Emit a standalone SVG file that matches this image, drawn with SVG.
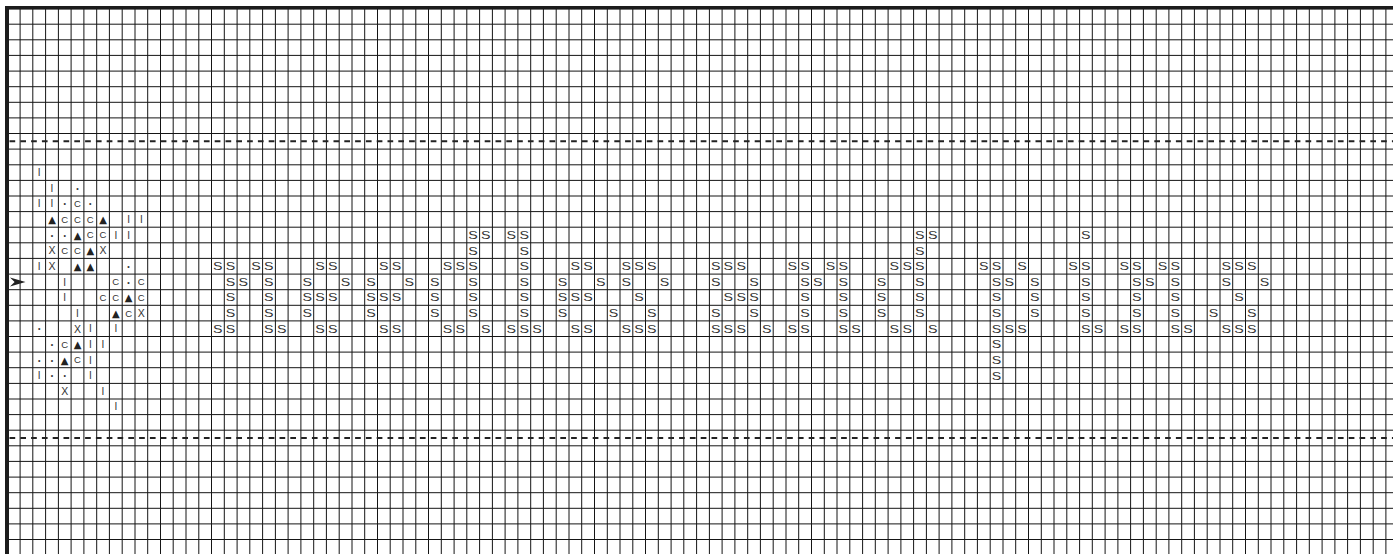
<svg xmlns="http://www.w3.org/2000/svg" width="1393" height="554" viewBox="0 0 1393 554">
<style>
.grid{fill:none;stroke:#151515;stroke-width:1}
.dash{fill:none;stroke:#222;stroke-width:2;stroke-dasharray:5.7 5.1}
.border{fill:#1c1c1c}
.sym{font-family:"Liberation Sans","DejaVu Sans",sans-serif;fill:#333;text-anchor:middle}
.i{font-size:10px}
.d{font-size:7px}
.c{font-size:9.5px}
.t{font-family:"DejaVu Sans","Liberation Sans",sans-serif;font-size:10px;fill:#222;text-anchor:middle}
.x{font-size:10.5px}
.s{font-family:"Liberation Sans","DejaVu Sans",sans-serif;font-size:11px;fill:#333}
</style>
<rect x="0" y="0" width="1393" height="554" fill="#fff"/>
<g id="grid">
<path class="grid" d="M20.1 9v545M32.8 9v545M45.6 9v545M58.4 9v545M71.1 9v545M83.9 9v545M96.7 9v545M109.4 9v545M122.2 9v545M135 9v545M147.7 9v545M160.5 9v545M173.2 9v545M186 9v545M198.8 9v545M211.5 9v545M224.3 9v545M237.1 9v545M249.8 9v545M262.6 9v545M275.4 9v545M288.1 9v545M300.9 9v545M313.7 9v545M326.4 9v545M339.2 9v545M352 9v545M364.7 9v545M377.5 9v545M390.2 9v545M403 9v545M415.8 9v545M428.5 9v545M441.3 9v545M454.1 9v545M466.8 9v545M479.6 9v545M492.4 9v545M505.1 9v545M517.9 9v545M530.7 9v545M543.4 9v545M556.2 9v545M569 9v545M581.7 9v545M594.5 9v545M607.3 9v545M620 9v545M632.8 9v545M645.5 9v545M658.3 9v545M671.1 9v545M683.8 9v545M696.6 9v545M709.4 9v545M722.1 9v545M734.9 9v545M747.7 9v545M760.4 9v545M773.2 9v545M786 9v545M798.7 9v545M811.5 9v545M824.3 9v545M837 9v545M849.8 9v545M862.6 9v545M875.3 9v545M888.1 9v545M900.9 9v545M913.6 9v545M926.4 9v545M939.1 9v545M951.9 9v545M964.7 9v545M977.4 9v545M990.2 9v545M1003 9v545M1015.7 9v545M1028.5 9v545M1041.3 9v545M1054 9v545M1066.8 9v545M1079.6 9v545M1092.3 9v545M1105.1 9v545M1117.9 9v545M1130.6 9v545M1143.4 9v545M1156.2 9v545M1168.9 9v545M1181.7 9v545M1194.4 9v545M1207.2 9v545M1220 9v545M1232.7 9v545M1245.5 9v545M1258.3 9v545M1271 9v545M1283.8 9v545M1296.6 9v545M1309.3 9v545M1322.1 9v545M1334.9 9v545M1347.6 9v545M1360.4 9v545M1373.2 9v545M1385.9 9v545"/>
<path class="grid" d="M9 24.2H1393M9 39.8H1393M9 55.4H1393M9 71.1H1393M9 86.7H1393M9 102.3H1393M9 117.9H1393M9 133.5H1393M9 149.1H1393M9 164.8H1393M9 180.4H1393M9 196H1393M9 211.6H1393M9 227.2H1393M9 242.8H1393M9 258.4H1393M9 274.1H1393M9 289.7H1393M9 305.3H1393M9 320.9H1393M9 336.5H1393M9 352.1H1393M9 367.7H1393M9 383.4H1393M9 399H1393M9 414.6H1393M9 430.2H1393M9 445.8H1393M9 461.4H1393M9 477.1H1393M9 492.7H1393M9 508.3H1393M9 523.9H1393M9 539.5H1393"/>
</g>
<g id="center-lines">
<path class="dash" d="M9.5 141.3H1393M9.5 438H1393"/>
</g>
<g id="frame">
<rect class="border" x="5" y="6" width="1388" height="3.6"/>
<rect class="border" x="5" y="6" width="4" height="548"/>
</g>
<g id="center-arrow">
<polygon points="10,277.4 25.5,281.9 10,286.4 14.6,281.9" fill="#222"/>
</g>
<g id="motif" class="sym">
<text class="i" x="39.2" y="176.2">I</text>
<text class="i" x="52" y="191.8">I</text><text class="d" x="77.5" y="190.8">•</text>
<text class="i" x="39.2" y="207.4">I</text><text class="i" x="52" y="207.4">I</text><text class="d" x="64.7" y="206.4">•</text><text class="c" x="77.5" y="207.2">C</text><text class="d" x="90.3" y="206.4">•</text>
<text class="t" x="52" y="223.1">▲</text><text class="c" x="64.7" y="222.8">C</text><text class="c" x="77.5" y="222.8">C</text><text class="c" x="90.3" y="222.8">C</text><text class="t" x="103" y="223.1">▲</text><text class="i" x="128.6" y="223">I</text><text class="i" x="141.3" y="223">I</text>
<text class="d" x="52" y="237.6">•</text><text class="d" x="64.7" y="237.6">•</text><text class="t" x="77.5" y="238.7">▲</text><text class="c" x="90.3" y="238.4">C</text><text class="c" x="103" y="238.4">C</text><text class="i" x="115.8" y="238.6">I</text><text class="i" x="128.6" y="238.6">I</text>
<text class="x" x="52" y="254.4">X</text><text class="c" x="64.7" y="254">C</text><text class="c" x="77.5" y="254">C</text><text class="t" x="90.3" y="254.3">▲</text><text class="x" x="103" y="254.4">X</text>
<text class="i" x="39.2" y="269.8">I</text><text class="x" x="52" y="270">X</text><text class="t" x="77.5" y="269.9">▲</text><text class="t" x="90.3" y="269.9">▲</text><text class="d" x="128.6" y="268.8">•</text>
<text class="i" x="64.7" y="285.5">I</text><text class="c" x="115.8" y="285.3">C</text><text class="d" x="128.6" y="284.5">•</text><text class="c" x="141.3" y="285.3">C</text>
<text class="i" x="64.7" y="301.1">I</text><text class="c" x="103" y="300.9">C</text><text class="c" x="115.8" y="300.9">C</text><text class="t" x="128.6" y="301.2">▲</text><text class="c" x="141.3" y="300.9">C</text>
<text class="i" x="77.5" y="316.7">I</text><text class="t" x="115.8" y="316.8">▲</text><text class="c" x="128.6" y="316.5">C</text><text class="x" x="141.3" y="316.9">X</text>
<text class="d" x="39.2" y="331.3">•</text><text class="x" x="77.5" y="332.5">X</text><text class="i" x="90.3" y="332.3">I</text><text class="i" x="115.8" y="332.3">I</text>
<text class="d" x="52" y="346.9">•</text><text class="c" x="64.7" y="347.7">C</text><text class="t" x="77.5" y="348">▲</text><text class="i" x="90.3" y="347.9">I</text><text class="i" x="103" y="347.9">I</text>
<text class="d" x="39.2" y="362.5">•</text><text class="d" x="52" y="362.5">•</text><text class="t" x="64.7" y="363.6">▲</text><text class="c" x="77.5" y="363.3">C</text><text class="i" x="90.3" y="363.5">I</text>
<text class="i" x="39.2" y="379.2">I</text><text class="d" x="52" y="378.2">•</text><text class="d" x="64.7" y="378.2">•</text><text class="i" x="90.3" y="379.2">I</text>
<text class="x" x="64.7" y="395">X</text><text class="i" x="103" y="394.8">I</text>
<text class="i" x="115.8" y="410.4">I</text>
</g>
<g id="lettering">
<text class="s" x="468.3" y="239" textLength="9.5" lengthAdjust="spacingAndGlyphs">S</text><text class="s" x="481.1" y="239" textLength="9.5" lengthAdjust="spacingAndGlyphs">S</text><text class="s" x="506.6" y="239" textLength="9.5" lengthAdjust="spacingAndGlyphs">S</text><text class="s" x="519.4" y="239" textLength="9.5" lengthAdjust="spacingAndGlyphs">S</text><text class="s" x="915.1" y="239" textLength="9.5" lengthAdjust="spacingAndGlyphs">S</text><text class="s" x="927.9" y="239" textLength="9.5" lengthAdjust="spacingAndGlyphs">S</text><text class="s" x="1081.1" y="239" textLength="9.5" lengthAdjust="spacingAndGlyphs">S</text>
<text class="s" x="468.3" y="254.6" textLength="9.5" lengthAdjust="spacingAndGlyphs">S</text><text class="s" x="519.4" y="254.6" textLength="9.5" lengthAdjust="spacingAndGlyphs">S</text><text class="s" x="915.1" y="254.6" textLength="9.5" lengthAdjust="spacingAndGlyphs">S</text>
<text class="s" x="213" y="270.2" textLength="9.5" lengthAdjust="spacingAndGlyphs">S</text><text class="s" x="225.8" y="270.2" textLength="9.5" lengthAdjust="spacingAndGlyphs">S</text><text class="s" x="251.3" y="270.2" textLength="9.5" lengthAdjust="spacingAndGlyphs">S</text><text class="s" x="264.1" y="270.2" textLength="9.5" lengthAdjust="spacingAndGlyphs">S</text><text class="s" x="315.2" y="270.2" textLength="9.5" lengthAdjust="spacingAndGlyphs">S</text><text class="s" x="327.9" y="270.2" textLength="9.5" lengthAdjust="spacingAndGlyphs">S</text><text class="s" x="379" y="270.2" textLength="9.5" lengthAdjust="spacingAndGlyphs">S</text><text class="s" x="391.7" y="270.2" textLength="9.5" lengthAdjust="spacingAndGlyphs">S</text><text class="s" x="442.8" y="270.2" textLength="9.5" lengthAdjust="spacingAndGlyphs">S</text><text class="s" x="455.6" y="270.2" textLength="9.5" lengthAdjust="spacingAndGlyphs">S</text><text class="s" x="468.3" y="270.2" textLength="9.5" lengthAdjust="spacingAndGlyphs">S</text><text class="s" x="519.4" y="270.2" textLength="9.5" lengthAdjust="spacingAndGlyphs">S</text><text class="s" x="570.5" y="270.2" textLength="9.5" lengthAdjust="spacingAndGlyphs">S</text><text class="s" x="583.2" y="270.2" textLength="9.5" lengthAdjust="spacingAndGlyphs">S</text><text class="s" x="621.5" y="270.2" textLength="9.5" lengthAdjust="spacingAndGlyphs">S</text><text class="s" x="634.3" y="270.2" textLength="9.5" lengthAdjust="spacingAndGlyphs">S</text><text class="s" x="647" y="270.2" textLength="9.5" lengthAdjust="spacingAndGlyphs">S</text><text class="s" x="710.9" y="270.2" textLength="9.5" lengthAdjust="spacingAndGlyphs">S</text><text class="s" x="723.6" y="270.2" textLength="9.5" lengthAdjust="spacingAndGlyphs">S</text><text class="s" x="736.4" y="270.2" textLength="9.5" lengthAdjust="spacingAndGlyphs">S</text><text class="s" x="787.5" y="270.2" textLength="9.5" lengthAdjust="spacingAndGlyphs">S</text><text class="s" x="800.2" y="270.2" textLength="9.5" lengthAdjust="spacingAndGlyphs">S</text><text class="s" x="825.8" y="270.2" textLength="9.5" lengthAdjust="spacingAndGlyphs">S</text><text class="s" x="838.5" y="270.2" textLength="9.5" lengthAdjust="spacingAndGlyphs">S</text><text class="s" x="889.6" y="270.2" textLength="9.5" lengthAdjust="spacingAndGlyphs">S</text><text class="s" x="902.4" y="270.2" textLength="9.5" lengthAdjust="spacingAndGlyphs">S</text><text class="s" x="915.1" y="270.2" textLength="9.5" lengthAdjust="spacingAndGlyphs">S</text><text class="s" x="978.9" y="270.2" textLength="9.5" lengthAdjust="spacingAndGlyphs">S</text><text class="s" x="991.7" y="270.2" textLength="9.5" lengthAdjust="spacingAndGlyphs">S</text><text class="s" x="1017.2" y="270.2" textLength="9.5" lengthAdjust="spacingAndGlyphs">S</text><text class="s" x="1068.3" y="270.2" textLength="9.5" lengthAdjust="spacingAndGlyphs">S</text><text class="s" x="1081.1" y="270.2" textLength="9.5" lengthAdjust="spacingAndGlyphs">S</text><text class="s" x="1119.4" y="270.2" textLength="9.5" lengthAdjust="spacingAndGlyphs">S</text><text class="s" x="1132.1" y="270.2" textLength="9.5" lengthAdjust="spacingAndGlyphs">S</text><text class="s" x="1157.7" y="270.2" textLength="9.5" lengthAdjust="spacingAndGlyphs">S</text><text class="s" x="1170.4" y="270.2" textLength="9.5" lengthAdjust="spacingAndGlyphs">S</text><text class="s" x="1221.5" y="270.2" textLength="9.5" lengthAdjust="spacingAndGlyphs">S</text><text class="s" x="1234.2" y="270.2" textLength="9.5" lengthAdjust="spacingAndGlyphs">S</text><text class="s" x="1247" y="270.2" textLength="9.5" lengthAdjust="spacingAndGlyphs">S</text>
<text class="s" x="225.8" y="285.8" textLength="9.5" lengthAdjust="spacingAndGlyphs">S</text><text class="s" x="238.6" y="285.8" textLength="9.5" lengthAdjust="spacingAndGlyphs">S</text><text class="s" x="264.1" y="285.8" textLength="9.5" lengthAdjust="spacingAndGlyphs">S</text><text class="s" x="302.4" y="285.8" textLength="9.5" lengthAdjust="spacingAndGlyphs">S</text><text class="s" x="340.7" y="285.8" textLength="9.5" lengthAdjust="spacingAndGlyphs">S</text><text class="s" x="366.2" y="285.8" textLength="9.5" lengthAdjust="spacingAndGlyphs">S</text><text class="s" x="404.5" y="285.8" textLength="9.5" lengthAdjust="spacingAndGlyphs">S</text><text class="s" x="430" y="285.8" textLength="9.5" lengthAdjust="spacingAndGlyphs">S</text><text class="s" x="468.3" y="285.8" textLength="9.5" lengthAdjust="spacingAndGlyphs">S</text><text class="s" x="519.4" y="285.8" textLength="9.5" lengthAdjust="spacingAndGlyphs">S</text><text class="s" x="557.7" y="285.8" textLength="9.5" lengthAdjust="spacingAndGlyphs">S</text><text class="s" x="596" y="285.8" textLength="9.5" lengthAdjust="spacingAndGlyphs">S</text><text class="s" x="621.5" y="285.8" textLength="9.5" lengthAdjust="spacingAndGlyphs">S</text><text class="s" x="659.8" y="285.8" textLength="9.5" lengthAdjust="spacingAndGlyphs">S</text><text class="s" x="710.9" y="285.8" textLength="9.5" lengthAdjust="spacingAndGlyphs">S</text><text class="s" x="749.2" y="285.8" textLength="9.5" lengthAdjust="spacingAndGlyphs">S</text><text class="s" x="800.2" y="285.8" textLength="9.5" lengthAdjust="spacingAndGlyphs">S</text><text class="s" x="813" y="285.8" textLength="9.5" lengthAdjust="spacingAndGlyphs">S</text><text class="s" x="838.5" y="285.8" textLength="9.5" lengthAdjust="spacingAndGlyphs">S</text><text class="s" x="876.8" y="285.8" textLength="9.5" lengthAdjust="spacingAndGlyphs">S</text><text class="s" x="915.1" y="285.8" textLength="9.5" lengthAdjust="spacingAndGlyphs">S</text><text class="s" x="991.7" y="285.8" textLength="9.5" lengthAdjust="spacingAndGlyphs">S</text><text class="s" x="1004.5" y="285.8" textLength="9.5" lengthAdjust="spacingAndGlyphs">S</text><text class="s" x="1030" y="285.8" textLength="9.5" lengthAdjust="spacingAndGlyphs">S</text><text class="s" x="1081.1" y="285.8" textLength="9.5" lengthAdjust="spacingAndGlyphs">S</text><text class="s" x="1132.1" y="285.8" textLength="9.5" lengthAdjust="spacingAndGlyphs">S</text><text class="s" x="1144.9" y="285.8" textLength="9.5" lengthAdjust="spacingAndGlyphs">S</text><text class="s" x="1170.4" y="285.8" textLength="9.5" lengthAdjust="spacingAndGlyphs">S</text><text class="s" x="1221.5" y="285.8" textLength="9.5" lengthAdjust="spacingAndGlyphs">S</text><text class="s" x="1259.8" y="285.8" textLength="9.5" lengthAdjust="spacingAndGlyphs">S</text>
<text class="s" x="225.8" y="301.4" textLength="9.5" lengthAdjust="spacingAndGlyphs">S</text><text class="s" x="264.1" y="301.4" textLength="9.5" lengthAdjust="spacingAndGlyphs">S</text><text class="s" x="302.4" y="301.4" textLength="9.5" lengthAdjust="spacingAndGlyphs">S</text><text class="s" x="315.2" y="301.4" textLength="9.5" lengthAdjust="spacingAndGlyphs">S</text><text class="s" x="327.9" y="301.4" textLength="9.5" lengthAdjust="spacingAndGlyphs">S</text><text class="s" x="366.2" y="301.4" textLength="9.5" lengthAdjust="spacingAndGlyphs">S</text><text class="s" x="379" y="301.4" textLength="9.5" lengthAdjust="spacingAndGlyphs">S</text><text class="s" x="391.7" y="301.4" textLength="9.5" lengthAdjust="spacingAndGlyphs">S</text><text class="s" x="430" y="301.4" textLength="9.5" lengthAdjust="spacingAndGlyphs">S</text><text class="s" x="468.3" y="301.4" textLength="9.5" lengthAdjust="spacingAndGlyphs">S</text><text class="s" x="519.4" y="301.4" textLength="9.5" lengthAdjust="spacingAndGlyphs">S</text><text class="s" x="557.7" y="301.4" textLength="9.5" lengthAdjust="spacingAndGlyphs">S</text><text class="s" x="570.5" y="301.4" textLength="9.5" lengthAdjust="spacingAndGlyphs">S</text><text class="s" x="583.2" y="301.4" textLength="9.5" lengthAdjust="spacingAndGlyphs">S</text><text class="s" x="634.3" y="301.4" textLength="9.5" lengthAdjust="spacingAndGlyphs">S</text><text class="s" x="723.6" y="301.4" textLength="9.5" lengthAdjust="spacingAndGlyphs">S</text><text class="s" x="736.4" y="301.4" textLength="9.5" lengthAdjust="spacingAndGlyphs">S</text><text class="s" x="749.2" y="301.4" textLength="9.5" lengthAdjust="spacingAndGlyphs">S</text><text class="s" x="800.2" y="301.4" textLength="9.5" lengthAdjust="spacingAndGlyphs">S</text><text class="s" x="838.5" y="301.4" textLength="9.5" lengthAdjust="spacingAndGlyphs">S</text><text class="s" x="876.8" y="301.4" textLength="9.5" lengthAdjust="spacingAndGlyphs">S</text><text class="s" x="915.1" y="301.4" textLength="9.5" lengthAdjust="spacingAndGlyphs">S</text><text class="s" x="991.7" y="301.4" textLength="9.5" lengthAdjust="spacingAndGlyphs">S</text><text class="s" x="1030" y="301.4" textLength="9.5" lengthAdjust="spacingAndGlyphs">S</text><text class="s" x="1081.1" y="301.4" textLength="9.5" lengthAdjust="spacingAndGlyphs">S</text><text class="s" x="1132.1" y="301.4" textLength="9.5" lengthAdjust="spacingAndGlyphs">S</text><text class="s" x="1170.4" y="301.4" textLength="9.5" lengthAdjust="spacingAndGlyphs">S</text><text class="s" x="1234.2" y="301.4" textLength="9.5" lengthAdjust="spacingAndGlyphs">S</text>
<text class="s" x="225.8" y="317.1" textLength="9.5" lengthAdjust="spacingAndGlyphs">S</text><text class="s" x="264.1" y="317.1" textLength="9.5" lengthAdjust="spacingAndGlyphs">S</text><text class="s" x="302.4" y="317.1" textLength="9.5" lengthAdjust="spacingAndGlyphs">S</text><text class="s" x="366.2" y="317.1" textLength="9.5" lengthAdjust="spacingAndGlyphs">S</text><text class="s" x="430" y="317.1" textLength="9.5" lengthAdjust="spacingAndGlyphs">S</text><text class="s" x="468.3" y="317.1" textLength="9.5" lengthAdjust="spacingAndGlyphs">S</text><text class="s" x="519.4" y="317.1" textLength="9.5" lengthAdjust="spacingAndGlyphs">S</text><text class="s" x="557.7" y="317.1" textLength="9.5" lengthAdjust="spacingAndGlyphs">S</text><text class="s" x="608.8" y="317.1" textLength="9.5" lengthAdjust="spacingAndGlyphs">S</text><text class="s" x="647" y="317.1" textLength="9.5" lengthAdjust="spacingAndGlyphs">S</text><text class="s" x="710.9" y="317.1" textLength="9.5" lengthAdjust="spacingAndGlyphs">S</text><text class="s" x="749.2" y="317.1" textLength="9.5" lengthAdjust="spacingAndGlyphs">S</text><text class="s" x="800.2" y="317.1" textLength="9.5" lengthAdjust="spacingAndGlyphs">S</text><text class="s" x="838.5" y="317.1" textLength="9.5" lengthAdjust="spacingAndGlyphs">S</text><text class="s" x="876.8" y="317.1" textLength="9.5" lengthAdjust="spacingAndGlyphs">S</text><text class="s" x="915.1" y="317.1" textLength="9.5" lengthAdjust="spacingAndGlyphs">S</text><text class="s" x="991.7" y="317.1" textLength="9.5" lengthAdjust="spacingAndGlyphs">S</text><text class="s" x="1030" y="317.1" textLength="9.5" lengthAdjust="spacingAndGlyphs">S</text><text class="s" x="1081.1" y="317.1" textLength="9.5" lengthAdjust="spacingAndGlyphs">S</text><text class="s" x="1132.1" y="317.1" textLength="9.5" lengthAdjust="spacingAndGlyphs">S</text><text class="s" x="1170.4" y="317.1" textLength="9.5" lengthAdjust="spacingAndGlyphs">S</text><text class="s" x="1208.7" y="317.1" textLength="9.5" lengthAdjust="spacingAndGlyphs">S</text><text class="s" x="1247" y="317.1" textLength="9.5" lengthAdjust="spacingAndGlyphs">S</text>
<text class="s" x="213" y="332.7" textLength="9.5" lengthAdjust="spacingAndGlyphs">S</text><text class="s" x="225.8" y="332.7" textLength="9.5" lengthAdjust="spacingAndGlyphs">S</text><text class="s" x="264.1" y="332.7" textLength="9.5" lengthAdjust="spacingAndGlyphs">S</text><text class="s" x="276.9" y="332.7" textLength="9.5" lengthAdjust="spacingAndGlyphs">S</text><text class="s" x="315.2" y="332.7" textLength="9.5" lengthAdjust="spacingAndGlyphs">S</text><text class="s" x="327.9" y="332.7" textLength="9.5" lengthAdjust="spacingAndGlyphs">S</text><text class="s" x="379" y="332.7" textLength="9.5" lengthAdjust="spacingAndGlyphs">S</text><text class="s" x="391.7" y="332.7" textLength="9.5" lengthAdjust="spacingAndGlyphs">S</text><text class="s" x="442.8" y="332.7" textLength="9.5" lengthAdjust="spacingAndGlyphs">S</text><text class="s" x="455.6" y="332.7" textLength="9.5" lengthAdjust="spacingAndGlyphs">S</text><text class="s" x="481.1" y="332.7" textLength="9.5" lengthAdjust="spacingAndGlyphs">S</text><text class="s" x="506.6" y="332.7" textLength="9.5" lengthAdjust="spacingAndGlyphs">S</text><text class="s" x="519.4" y="332.7" textLength="9.5" lengthAdjust="spacingAndGlyphs">S</text><text class="s" x="532.2" y="332.7" textLength="9.5" lengthAdjust="spacingAndGlyphs">S</text><text class="s" x="570.5" y="332.7" textLength="9.5" lengthAdjust="spacingAndGlyphs">S</text><text class="s" x="583.2" y="332.7" textLength="9.5" lengthAdjust="spacingAndGlyphs">S</text><text class="s" x="621.5" y="332.7" textLength="9.5" lengthAdjust="spacingAndGlyphs">S</text><text class="s" x="634.3" y="332.7" textLength="9.5" lengthAdjust="spacingAndGlyphs">S</text><text class="s" x="647" y="332.7" textLength="9.5" lengthAdjust="spacingAndGlyphs">S</text><text class="s" x="710.9" y="332.7" textLength="9.5" lengthAdjust="spacingAndGlyphs">S</text><text class="s" x="723.6" y="332.7" textLength="9.5" lengthAdjust="spacingAndGlyphs">S</text><text class="s" x="736.4" y="332.7" textLength="9.5" lengthAdjust="spacingAndGlyphs">S</text><text class="s" x="761.9" y="332.7" textLength="9.5" lengthAdjust="spacingAndGlyphs">S</text><text class="s" x="787.5" y="332.7" textLength="9.5" lengthAdjust="spacingAndGlyphs">S</text><text class="s" x="800.2" y="332.7" textLength="9.5" lengthAdjust="spacingAndGlyphs">S</text><text class="s" x="838.5" y="332.7" textLength="9.5" lengthAdjust="spacingAndGlyphs">S</text><text class="s" x="851.3" y="332.7" textLength="9.5" lengthAdjust="spacingAndGlyphs">S</text><text class="s" x="889.6" y="332.7" textLength="9.5" lengthAdjust="spacingAndGlyphs">S</text><text class="s" x="902.4" y="332.7" textLength="9.5" lengthAdjust="spacingAndGlyphs">S</text><text class="s" x="927.9" y="332.7" textLength="9.5" lengthAdjust="spacingAndGlyphs">S</text><text class="s" x="991.7" y="332.7" textLength="9.5" lengthAdjust="spacingAndGlyphs">S</text><text class="s" x="1004.5" y="332.7" textLength="9.5" lengthAdjust="spacingAndGlyphs">S</text><text class="s" x="1017.2" y="332.7" textLength="9.5" lengthAdjust="spacingAndGlyphs">S</text><text class="s" x="1081.1" y="332.7" textLength="9.5" lengthAdjust="spacingAndGlyphs">S</text><text class="s" x="1093.8" y="332.7" textLength="9.5" lengthAdjust="spacingAndGlyphs">S</text><text class="s" x="1119.4" y="332.7" textLength="9.5" lengthAdjust="spacingAndGlyphs">S</text><text class="s" x="1132.1" y="332.7" textLength="9.5" lengthAdjust="spacingAndGlyphs">S</text><text class="s" x="1170.4" y="332.7" textLength="9.5" lengthAdjust="spacingAndGlyphs">S</text><text class="s" x="1183.2" y="332.7" textLength="9.5" lengthAdjust="spacingAndGlyphs">S</text><text class="s" x="1221.5" y="332.7" textLength="9.5" lengthAdjust="spacingAndGlyphs">S</text><text class="s" x="1234.2" y="332.7" textLength="9.5" lengthAdjust="spacingAndGlyphs">S</text><text class="s" x="1247" y="332.7" textLength="9.5" lengthAdjust="spacingAndGlyphs">S</text>
<text class="s" x="991.7" y="348.3" textLength="9.5" lengthAdjust="spacingAndGlyphs">S</text>
<text class="s" x="991.7" y="363.9" textLength="9.5" lengthAdjust="spacingAndGlyphs">S</text>
<text class="s" x="991.7" y="379.5" textLength="9.5" lengthAdjust="spacingAndGlyphs">S</text>
</g>
</svg>
